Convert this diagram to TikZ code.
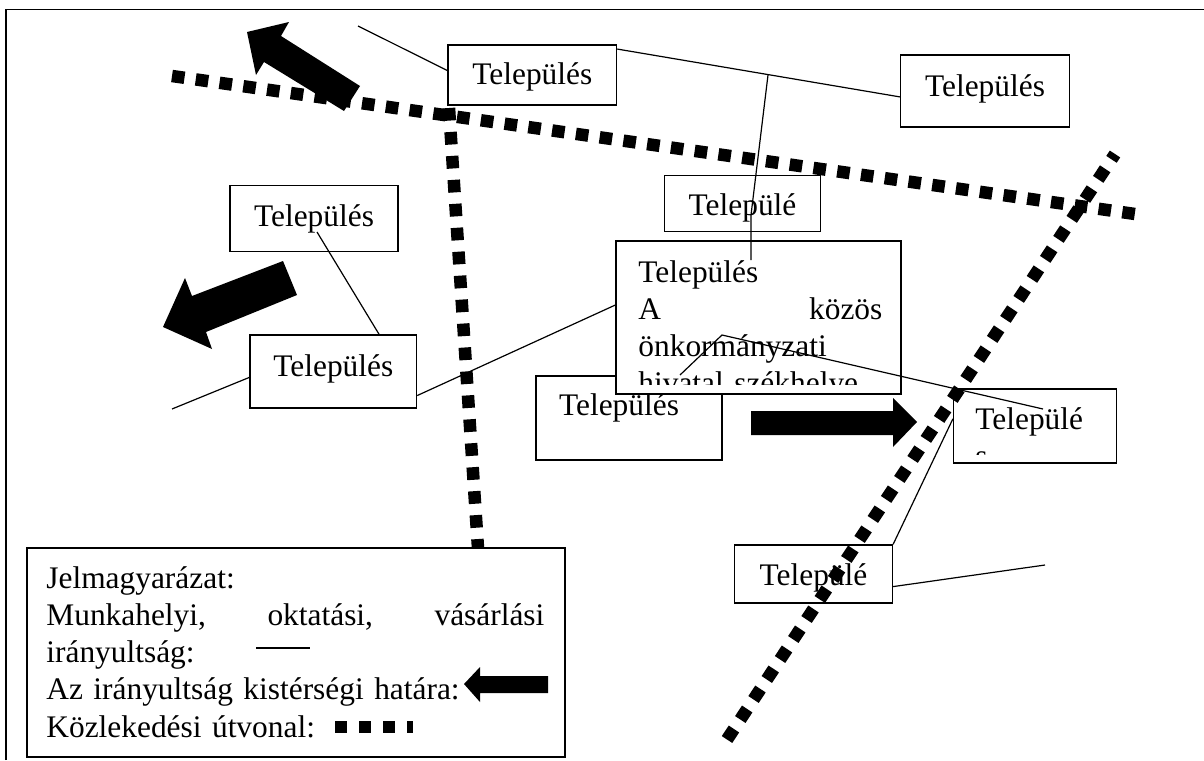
\documentclass[tikz,border=0pt]{standalone}
\usepackage{fontspec}
\setmainfont{Liberation Serif}
\usetikzlibrary{calc,positioning}

\begin{document}
\begin{tikzpicture}[x=0.5pt,y=-0.5pt]
	\tikzset{every node/.style={font=\fontsize{15.7}{18.6}\selectfont, inner sep=0pt},
		doboz/.style={draw, fill=white, line width=0.6pt, text depth=3.4pt},
		vonal/.style={line width=0.6pt},
		utvonal/.style={line width=6.25pt, dash pattern=on 6.3pt off 5.7pt},
		nyil/.style={fill=black}}
	\useasboundingbox (0,0) rectangle (1204,760);
	\fill [white] (0,0) rectangle (1204,760);
	\draw [vonal] (6,760) -- (6,9.5) -- (1204,9.5);

	% boxes
	\node [doboz, minimum width=84.3pt, minimum height=30pt, text height=12.4pt] (felso) at (532.3,75) {Település};
	\node [doboz, minimum width=84.3pt, minimum height=36pt, text height=8.4pt] (jobb) at (985,91) {Település};
	\node [doboz, minimum width=78pt, minimum height=28pt, text height=14.7pt] (kozepso) at (742.5,203.7) {Települé};
	\node [doboz, minimum width=84pt, minimum height=33pt, text height=11.4pt] (bal) at (314,218.7) {Település};
	\node [doboz, minimum width=83.3pt, minimum height=36.5pt, text height=7.9pt] (also) at (333.3,371.5) {Település};
	\node [doboz, minimum width=93pt, minimum height=42pt] (szomszed) at (629,418) {};
	\node [anchor=base] (szomszedfelirat) at (619,415) {Település};
	\node [doboz, minimum width=142.5pt, minimum height=76.5pt] (szekhely) at (758.5,317.5) {};
	\begin{scope}
		\clip (616,241) rectangle (901,384);
		\node [anchor=north west, text width=122pt, align=left] (szekhelyfelirat) at (638,260)
			{Település\\\makebox[122pt][s]{A\hfill közös}\\önkormányzati\\hivatal székhelye};
	\end{scope}
	\node [doboz, minimum width=81.5pt, minimum height=37pt] (keleti) at (1035,426) {};
	\begin{scope}
		\clip (954,390) rectangle (1115,454);
		\node [anchor=north west, align=left] (keletifelirat) at (975,407) {Települé\\s};
	\end{scope}
	\node [doboz, minimum width=79pt, minimum height=29pt, text height=14.4pt] (deli) at (813.5,574) {Települé};

	% connectors
	\coordinate (eszak) at (358,26);
	\coordinate (elagazas) at (768,75);
	\coordinate (kozeptores) at (751,215);
	\coordinate (kozepvege) at (751,260);
	\coordinate (balkezdet) at (317,232);
	\coordinate (nyugat) at (172,409);
	\coordinate (hivatal) at (680,375);
	\coordinate (torespont) at (722,335);
	\coordinate (keletivege) at (1043,409);
	\coordinate (delvege) at (1045,565);
	\draw [vonal] (eszak) -- (felso.177);
	\draw [vonal] (felso.17) -- (jobb.184);
	\draw [vonal] (elagazas) -- (kozeptores) -- (kozepvege);
	\draw [vonal] (balkezdet) -- (also.39);
	\draw [vonal] (nyugat) -- (also.184);
	\draw [vonal] (also.-16) -- (szekhely.175);
	\draw [vonal] (hivatal) -- (torespont) -- (keletivege);
	\draw [vonal] (keleti.175) -- (deli.north east);
	\draw [vonal] (deli.-9) -- (delvege);

	% roads
	\draw [utvonal] (172,76) -- (1135,214);
	\draw [utvonal] (449,108) -- (478,548);
	\draw [utvonal] (727,739.5) -- (1115,154);

	% arrows
	\fill [nyil] (247,32) -- (289,22) -- (281,36) -- (360,86) -- (344,111) -- (264,62) -- (256,75) -- cycle;
	\fill [nyil] (163,327) -- (185,278) -- (192,296) -- (283,261) -- (297,295) -- (206,332) -- (212,349) -- cycle;
	\fill [nyil] (917,422) -- (893,398) -- (893,411) -- (751,411) -- (751,435) -- (893,435) -- (893,447) -- cycle;

	% legend
	\node [doboz, minimum width=269pt, minimum height=104.5pt] (jelmagyarazat) at (296,652.5) {};
	\node [anchor=north west, text width=249pt, align=left] (jelmagyarazatfelirat) at (46,566)
		{Jelmagyarázat:\\\makebox[249pt][s]{Munkahelyi,\hfill oktatási,\hfill vásárlási}\\irányultság:\\Az irányultság kistérségi határa:\\Közlekedési útvonal:};
	\coordinate (mintavonal1) at (256,648);
	\coordinate (mintavonal2) at (310,648);
	\draw [vonal] (mintavonal1) -- (mintavonal2);
	\fill [nyil] (464,684) -- (480,667) -- (480,676) -- (548,676) -- (548,693) -- (480,693) -- (480,702) -- cycle;
	\draw [line width=6.2pt, dash pattern=on 6pt off 6pt] (335,727) -- (413,727);
\end{tikzpicture}
\end{document}
